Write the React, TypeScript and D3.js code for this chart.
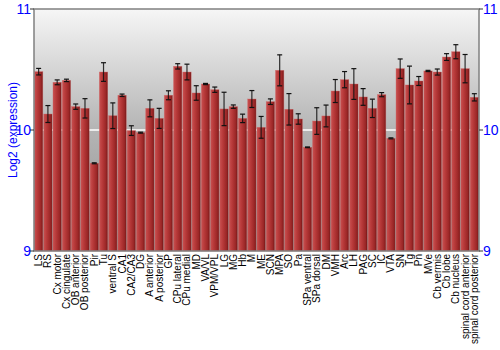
import React from "react";
import * as d3 from "d3";

const categories = ["LS","RS","Cx motor","Cx cingulate","OB anterior","OB posterior","Pir","Tu","ventral S","CA1","CA2/CA3","DG","A anterior","A posterior","GP","CPu lateral","CPu medial","MD","VA/VL","VPM/VPL","LG","MG","Hb","M","ME","SCN","MPA","SO","Pa","SPa ventral","SPa dorsal","DM","VMH","Arc","LH","PAG","SC","IC","VTA","SN","Tg","Pn","MVe","Cb vermis","Cb lobe","Cb nucleus","spinal cord anterior","spinal cord posterior"];
const values = [10.482,10.132,10.394,10.41,10.193,10.179,9.725,10.479,10.118,10.287,9.995,9.978,10.179,10.096,10.287,10.526,10.479,10.306,10.38,10.333,10.174,10.193,10.096,10.256,10.022,10.234,10.493,10.171,10.091,9.857,10.074,10.116,10.322,10.416,10.38,10.273,10.179,10.292,9.931,10.507,10.372,10.405,10.488,10.479,10.603,10.647,10.507,10.27];
const errors = [0.027,0.07,0.02,0.01,0.022,0.08,0.004,0.077,0.106,0.01,0.04,0.004,0.07,0.083,0.037,0.022,0.065,0.06,0.005,0.022,0.138,0.014,0.035,0.07,0.09,0.023,0.128,0.13,0.043,0.003,0.11,0.09,0.095,0.067,0.127,0.069,0.076,0.017,0.004,0.08,0.156,0.037,0.005,0.025,0.028,0.058,0.117,0.03];
const yTicks = [9, 10, 11];

export default function App() {
  const W = 500, H = 350;
  const left = 34, right = 479, top = 9, bottom = 251;
  const x = d3.scaleBand().domain(categories).range([left, right]).paddingInner(0.1).paddingOuter(0.05);
  const y = d3.scaleLinear().domain([9, 11]).range([bottom, top]);
  const bw = x.bandwidth();
  const font = "'Liberation Sans', Arial, sans-serif";
  return (
    <svg width={W} height={H} style={{ position: "absolute", left: 0, top: 0, background: "#fff" }} fontFamily={font}>
      <defs>
        <linearGradient id="bg" x1="0" y1="0" x2="0" y2="1">
          <stop offset="0" stopColor="#f6f6f6" />
          <stop offset="0.5" stopColor="#b4b4b4" />
          <stop offset="1" stopColor="#909090" />
        </linearGradient>
        <linearGradient id="bar" x1="0" y1="0" x2="1" y2="0">
          <stop offset="0" stopColor="#c85050" />
          <stop offset="0.35" stopColor="#b83a3a" />
          <stop offset="0.8" stopColor="#9a2626" />
          <stop offset="1" stopColor="#701616" />
        </linearGradient>
      </defs>
      <rect x={left} y={top} width={right - left} height={bottom - top} fill="url(#bg)" />
      <line x1={left} x2={right} y1={y(10)} y2={y(10)} stroke="#ffffff" strokeWidth={1.5} />
      {categories.map((c, i) => {
        const bx = x(c)!;
        const v = values[i];
        return (
          <g key={c}>
            <rect x={bx} y={y(v)} width={bw} height={bottom - y(v)} fill="url(#bar)" stroke="#d06060" strokeOpacity={0.6} strokeWidth={0.6} />
          </g>
        );
      })}
      {categories.map((c, i) => {
        const cx = x(c)! + bw / 2;
        const v = values[i], e = errors[i];
        const y1 = y(v + e), y2 = y(v - e);
        return (
          <g key={"e" + c} stroke="#111" strokeWidth={1.2}>
            <line x1={cx} x2={cx} y1={y1} y2={y2} strokeOpacity={0.85} />
            <line x1={cx - 2.5} x2={cx + 2.5} y1={y1} y2={y1} />
            <line x1={cx - 2.5} x2={cx + 2.5} y1={y2} y2={y2} />
          </g>
        );
      })}
      <rect x={left} y={top} width={right - left} height={bottom - top} fill="none" stroke="#808080" strokeWidth={1.5} />
      {yTicks.map(t => (
        <g key={t}>
          <line x1={left - 4} x2={left} y1={y(t)} y2={y(t)} stroke="#333" />
          <line x1={right} x2={right + 4} y1={y(t)} y2={y(t)} stroke="#333" />
          <text x={left - 3} y={y(t)} dy="0.36em" textAnchor="end" fill="#0000ff" fontSize={14}>{t}</text>
          <text x={right + 4} y={y(t)} dy="0.36em" textAnchor="start" fill="#0000ff" fontSize={14}>{t}</text>
        </g>
      ))}
      <text transform={`translate(13,${(top + bottom) / 2}) rotate(-90)`} textAnchor="middle" fill="#0000ff" fontSize={12} dy="0.35em">Log2 (expression)</text>
      {categories.map(c => (
        <text key={"l" + c} transform={`translate(${x(c)! + bw / 2},${bottom + 3}) rotate(-90)`} textAnchor="end" dy="0.35em" fontSize={10} fill="#000">{c}</text>
      ))}
    </svg>
  );
}
